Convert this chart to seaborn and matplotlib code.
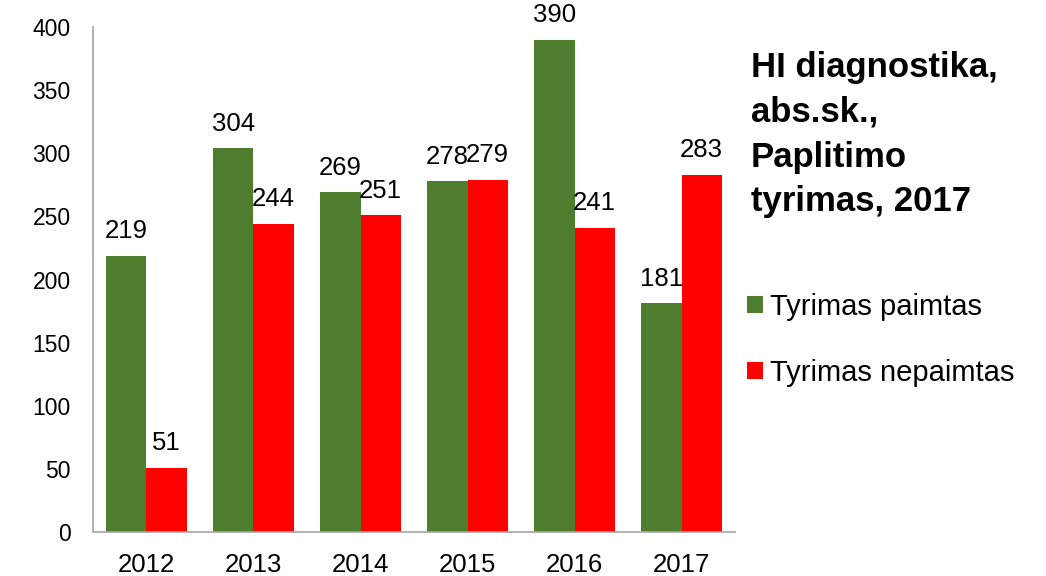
import pandas as pd
import seaborn as sns
import matplotlib.pyplot as plt

years = ['2012', '2013', '2014', '2015', '2016', '2017']
paimtas = [219, 304, 269, 278, 390, 181]
nepaimtas = [51, 244, 251, 279, 241, 283]
series = ['Tyrimas paimtas', 'Tyrimas nepaimtas']

data = pd.DataFrame({
    'year': years * 2,
    'value': paimtas + nepaimtas,
    'group': [series[0]] * len(years) + [series[1]] * len(years),
})

sns.set_style('white')
plt.rcParams['font.family'] = ['Liberation Sans', 'DejaVu Sans']
plt.rcParams['text.color'] = 'black'
plt.rcParams['xtick.color'] = 'black'
plt.rcParams['ytick.color'] = 'black'

fig = plt.figure(figsize=(10.46, 5.76), dpi=100)
ax = fig.add_axes([0.0889, 0.0764, 0.6138, 0.8767])

palette = {series[0]: '#4E7D2D', series[1]: '#FF0000'}
sns.barplot(data=data, x='year', y='value', hue='group', palette=palette,
            width=0.75, saturation=1, linewidth=0, ax=ax, legend=True)

for cont in ax.containers:
    ax.bar_label(cont, padding=9, fontsize=18.5, color='black')

ax.set_ylim(0, 400)
ax.set_yticks(range(0, 401, 50))
ax.set_xlim(-0.5, 5.5)
ax.set_xlabel('')
ax.set_ylabel('')
ax.tick_params(axis='x', labelsize=18.5, length=0, pad=15)
ax.tick_params(axis='y', labelsize=16.5, length=0, pad=16)
for s in ['top', 'right']:
    ax.spines[s].set_visible(False)
for s in ['left', 'bottom']:
    ax.spines[s].set_color('#A6A6A6')
    ax.spines[s].set_linewidth(1.2)

handles, labels = ax.get_legend_handles_labels()
ax.legend(handles, labels, loc='upper left', bbox_to_anchor=(0.7, 0.517),
          bbox_transform=fig.transFigure, frameon=False, fontsize=21,
          handlelength=0.55, handleheight=0.55, handletextpad=0.25,
          labelspacing=1.3, borderpad=0)

fig.text(0.718, 0.911, 'HI diagnostika,\nabs.sk.,\nPaplitimo\ntyrimas, 2017',
         fontsize=25, fontweight='bold', va='top', ha='left', linespacing=1.45)

fig.savefig('out.png', dpi=100)
